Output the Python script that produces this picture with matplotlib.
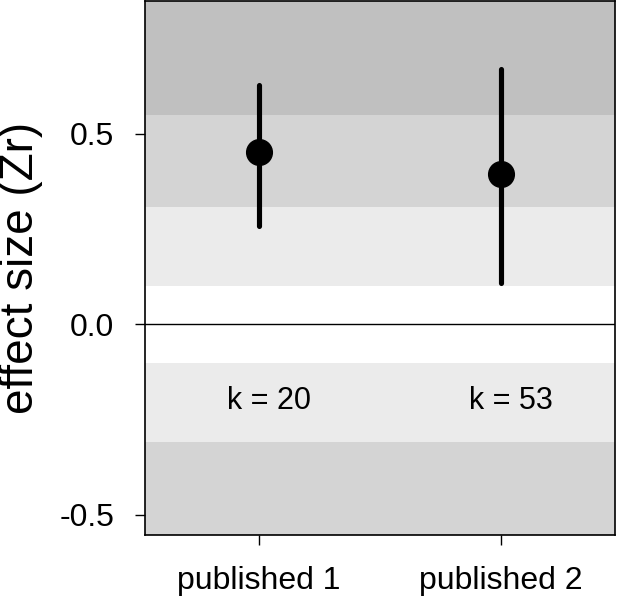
import matplotlib
matplotlib.use("Agg")
import matplotlib.pyplot as plt
import numpy as np

plt.rcParams['font.family'] = ['Liberation Sans', 'DejaVu Sans']

# Data
categories = ["published 1", "published 2"]
mean_zr = [0.454, 0.395]
ci_low = [0.258, 0.108]
ci_high = [0.629, 0.670]
k_labels = ["k = 20", "k = 53"]
k_y = [-0.2, -0.2]

# effect-size benchmark bands (Zr for r = 0.1, 0.3, 0.5)
band_edges = [0.1003, 0.3095, 0.5493]
band_colors = ["#ebebeb", "#d4d4d4", "#c0c0c0"]

fig = plt.figure(figsize=(6.17, 6.0), dpi=100)
ax = fig.add_axes([145/617, 1 - 535/600, (615 - 145)/617, (535 - 1)/600])

xlim = (0.529, 2.471)
ylim = (-0.5525, 0.849)
ax.set_xlim(*xlim)
ax.set_ylim(*ylim)

# bands
edges_ext = band_edges + [10]
for i, col in enumerate(band_colors):
    lower = band_edges[i]
    upper = edges_ext[i + 1]
    ax.axhspan(lower, upper, color=col, lw=0, zorder=0)
    ax.axhspan(-upper, -lower, color=col, lw=0, zorder=0)

ax.axhline(0, color="black", lw=1.0, zorder=1)

x = np.arange(1, len(categories) + 1)
for xi, m, l, h in zip(x, mean_zr, ci_low, ci_high):
    ax.plot([xi, xi], [l, h], color="black", lw=3.7, solid_capstyle="round", zorder=2)
ax.plot(x, mean_zr, "o", color="black", markersize=18.5, zorder=3)

for xi, lab, ky in zip(x, k_labels, k_y):
    ax.annotate(lab, (xi, ky), xytext=(7, 0), textcoords="offset points",
                ha="center", va="center", fontsize=22)

ax.set_xticks(x)
ax.set_xticklabels(categories)
ax.set_yticks([-0.5, 0.0, 0.5])
ax.set_yticklabels(["-0.5", "0.0", "0.5"])
ax.tick_params(axis="both", direction="out", length=7.2, width=1, labelsize=23)
ax.tick_params(axis="x", pad=15)
ax.tick_params(axis="y", pad=15)
ax.set_ylabel("effect size (Zr)", fontsize=33)
ax.yaxis.set_label_coords((43 - 145) / 470, 0.5)

for s in ax.spines.values():
    s.set_linewidth(1.2)
    s.set_color("black")

fig.savefig("out.png", dpi=100)
